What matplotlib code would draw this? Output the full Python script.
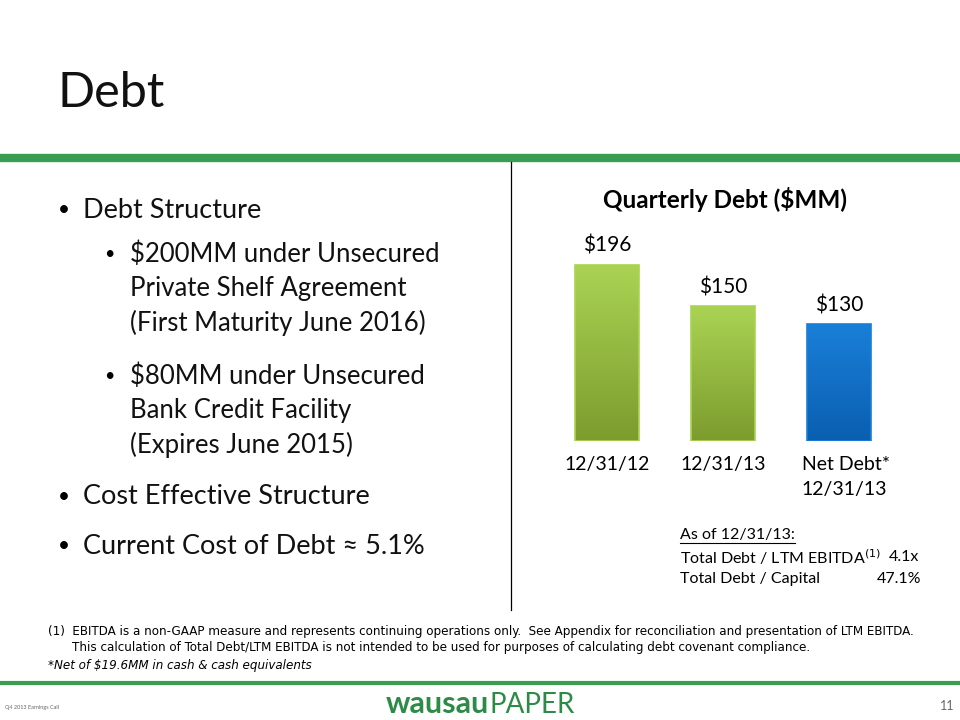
import matplotlib.pyplot as plt
import numpy as np
from matplotlib.colors import LinearSegmentedColormap

# chart data
categories = ['12/31/12', '12/31/13', 'Net Debt*\n12/31/13']
debt_values = [196, 150, 130]
value_labels = ['$196', '$150', '$130']
bar_colors = [('#aad353', '#7c9c2e'), ('#aad353', '#7c9c2e'), ('#1a7fd8', '#0a5fb0')]

bullets = [
    (0, ['Debt Structure'], 210),
    (1, ['$200MM under Unsecured', 'Private Shelf Agreement', '(First Maturity June 2016)'], 254),
    (1, ['$80MM under Unsecured', 'Bank Credit Facility', '(Expires June 2015)'], 376),
    (0, ['Cost Effective Structure'], 497),
    (0, ['Current Cost of Debt \u2248 5.1%'], 546),
]

W, H = 960, 720
fig = plt.figure(figsize=(9.6, 7.2), dpi=100)
fig.patch.set_facecolor('white')

font = 'Lato'

def px(x, y):
    return x / W, 1 - y / H

# header
fig.text(*px(58, 93), 'Debt', fontsize=35, family=font, va='center', ha='left', color='#111111')
fig.add_artist(plt.Line2D([0, 1], [1 - 158 / H] * 2, color='#3a9e52', lw=6, transform=fig.transFigure))
fig.add_artist(plt.Line2D([511 / W] * 2, [1 - 162 / H, 1 - 610 / H], color='black', lw=0.9,
                          transform=fig.transFigure))

# bullets
for lvl, lines, y in bullets:
    if lvl == 0:
        fig.text(*px(58, y), '\u2022', fontsize=15, family=font, va='center')
        fig.text(*px(83, y), lines[0], fontsize=19.5, family=font, va='center', color='#111111')
    else:
        fig.text(*px(104, y), '\u2022', fontsize=13, family=font, va='center')
        for i, ln in enumerate(lines):
            fig.text(*px(130, y + i * 34.5), ln, fontsize=18.5, family=font, va='center',
                     color='#111111')

# bar chart
ax = fig.add_axes([549 / W, 1 - 441 / H, 348 / W, 197.6 / H])
x = np.arange(len(categories))
bars = ax.bar(x, debt_values, width=0.55, color='none', edgecolor='none')
for b, (top_c, bot_c) in zip(bars, bar_colors):
    cmap = LinearSegmentedColormap.from_list('g', [bot_c, top_c])
    grad = np.linspace(0, 1, 100).reshape(-1, 1)
    bx, by = b.get_x(), b.get_y()
    im = ax.imshow(grad, cmap=cmap, aspect='auto', origin='lower',
                   extent=[bx, bx + b.get_width(), by, by + b.get_height()], zorder=2)
    im.set_clip_path(b)
    ax.add_patch(plt.Rectangle((bx, by), b.get_width(), b.get_height(), fill=False,
                               edgecolor=top_c, lw=1.2, zorder=3))
for xi, v, lab in zip(x, debt_values, value_labels):
    ax.text(xi, v + 10, lab, ha='center', va='bottom', fontsize=15, family=font)
ax.set_xlim(-0.5, 2.5)
ax.set_ylim(0, 220)
ax.axis('off')
for xi, c in zip(x, categories):
    ax.text(xi, -17, c, ha='center' if xi < 2 else 'left', va='top', fontsize=14, family=font,
            linespacing=1.55)
ax.texts[-1].set_x(1.68)
fig.text(*px(725, 200), 'Quarterly Debt ($MM)', fontsize=17.5, family=font, weight='bold',
         ha='center', va='center')

# ratios
hdr = fig.text(*px(680, 535), 'As of 12/31/13:', fontsize=11.5, family=font, va='center')
fig.text(*px(680, 557), 'Total Debt / LTM EBITDA$^{(1)}$', fontsize=11.5, family=font, va='center')
fig.text(*px(889, 557), '4.1x', fontsize=11.5, family=font, va='center')
fig.text(*px(680, 579), 'Total Debt / Capital', fontsize=11.5, family=font, va='center')
fig.text(*px(877, 579), '47.1%', fontsize=11.5, family=font, va='center')
fig.canvas.draw()
bb = hdr.get_window_extent()
fig.add_artist(plt.Line2D([bb.x0 / W, bb.x1 / W], [1 - 543 / H] * 2, color='black', lw=0.8,
                          transform=fig.transFigure))

# footnotes
fkw = dict(fontsize=9.5, family='DejaVu Sans', fontstretch='condensed', va='center')
fig.text(*px(48, 632), '(1)  EBITDA is a non-GAAP measure and represents continuing operations only.  '
         'See Appendix for reconciliation and presentation of LTM EBITDA.', **fkw)
fig.text(*px(72, 648), 'This calculation of Total Debt/LTM EBITDA is not intended to be used for purposes '
         'of calculating debt covenant compliance.', **fkw)
fig.text(*px(48, 665), '*Net of $19.6MM in cash & cash equivalents', style='italic', **fkw)

# footer
fig.add_artist(plt.Line2D([0, 1], [1 - 683 / H] * 2, color='#3a9e52', lw=3, transform=fig.transFigure))
fig.text(*px(5, 707), 'Q4 2013 Earnings Call', fontsize=4, family=font, color='#666666', va='center')
fig.text(*px(940, 706), '11', fontsize=9, family=font, color='#666666', va='center')
fig.text(*px(489, 704), 'wausau', fontsize=22, family=font, weight='bold', color='#2e8b47',
         ha='right', va='center')
fig.text(*px(490, 705), 'PAPER', fontsize=20, family=font, color='#2e8b47',
         ha='left', va='center')

fig.savefig('out.png', dpi=100, facecolor='white')
